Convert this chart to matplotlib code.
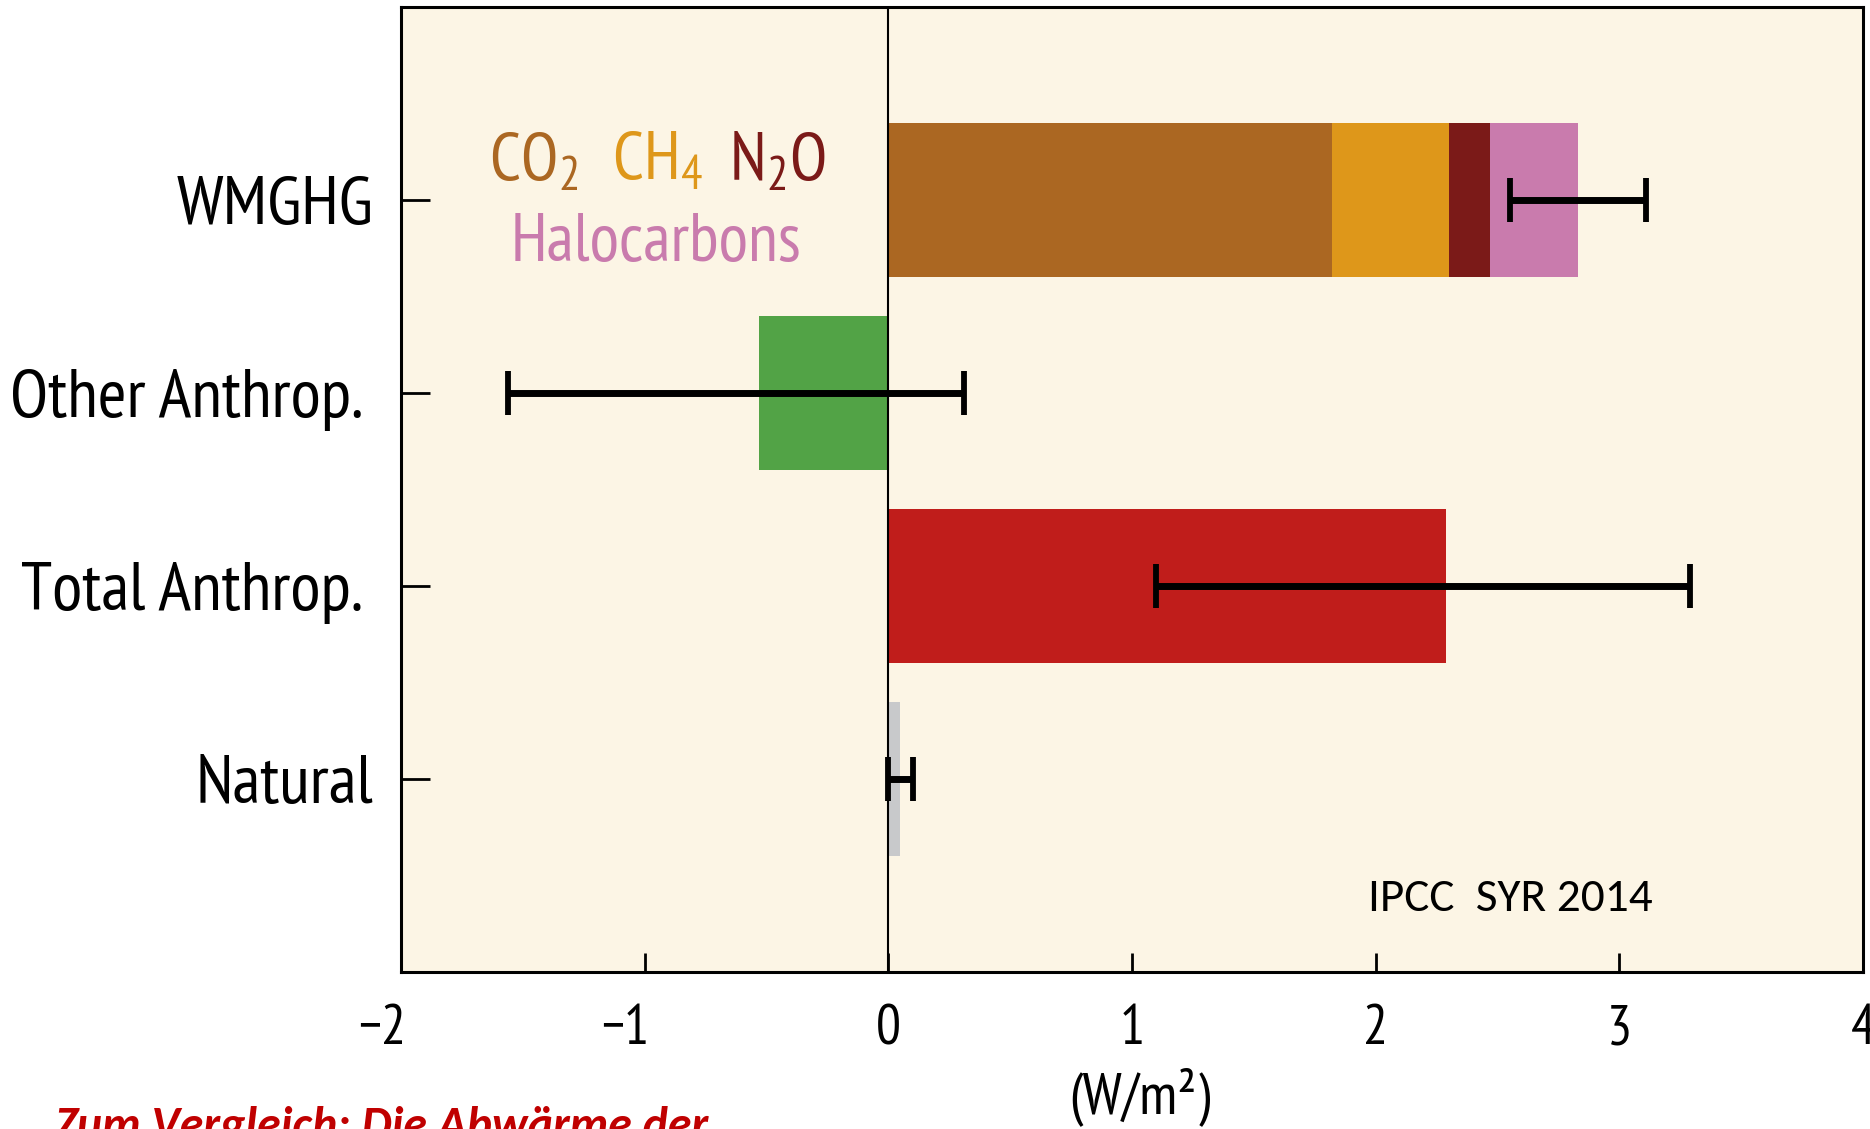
#!/usr/bin/env python3

"""
Radiative forcing bars (IPCC SYR 2014), redrawn with matplotlib.
"""

import matplotlib
matplotlib.use("Agg")
import matplotlib.pyplot as plt
import matplotlib.transforms as mtransforms

# categories from top to bottom
categories = ["WMGHG", "Other Anthrop. ", "Total Anthrop. ", "Natural"]
positions = [3, 2, 1, 0]

# WMGHG stacked components (W/m2)
ghg_names = ["CO$_2$", "CH$_4$", "N$_2$O", "Halocarbons"]
ghg_values = [1.82, 0.48, 0.17, 0.36]

# single bars for the other rows
single_values = [-0.53, 2.29, 0.05]

# uncertainty ranges per row (low, high)
err_low = [2.55, -1.56, 1.10, 0.00]
err_high = [3.11, 0.31, 3.29, 0.10]

xticks = [-2, -1, 0, 1, 2, 3, 4]

BG = "#fcf5e5"
GHG_COLORS = ["#ab6722", "#de971a", "#7b1a18", "#c97bad"]
SINGLE_COLORS = ["#52a346", "#c01d1b", "#c8c9cb"]

NARROW = ["PT Sans Narrow", "Roboto Condensed", "DejaVu Sans"]
CALIBRI = ["Carlito", "Open Sans", "DejaVu Sans"]

plt.rcParams["mathtext.fontset"] = "custom"
plt.rcParams["mathtext.rm"] = "PT Sans Narrow"
plt.rcParams["mathtext.it"] = "PT Sans Narrow"
plt.rcParams["mathtext.bf"] = "PT Sans Narrow"

fig = plt.figure(figsize=(18.7, 11.29), dpi=100)
ax = fig.add_axes([0.2144, 0.139, 0.7819, 0.8548])
ax.set_facecolor(BG)

# stacked WMGHG bar
left = 0
for val, col in zip(ghg_values, GHG_COLORS):
    ax.barh(positions[0], val, left=left, height=0.8, color=col, zorder=2)
    left += val

# other rows
for pos, val, col in zip(positions[1:], single_values, SINGLE_COLORS):
    ax.barh(pos, val, height=0.8, color=col, zorder=2)

# uncertainty bars
totals = [sum(ghg_values)] + single_values
for pos, tot, lo, hi in zip(positions, totals, err_low, err_high):
    ax.errorbar(tot, pos, xerr=[[tot - lo], [hi - tot]], fmt="none",
                ecolor="black", elinewidth=5, capsize=16, capthick=4.2, zorder=4)

ax.axvline(0, color="black", lw=1.5, zorder=3)

ax.set_xlim(-2, 4)
ax.set_ylim(-1, 4)
ax.set_xticks(xticks)
ax.set_xticklabels([("\u2212%d" % -t) if t < 0 else str(t) for t in xticks],
                   family=NARROW, fontsize=40)
ax.set_yticks(positions)
ax.set_yticklabels(categories, family=NARROW, fontsize=50)
ax.tick_params(axis="x", direction="in", length=14, width=2, pad=23)
ax.tick_params(axis="y", direction="in", length=21, width=2, pad=20)
for sp in ax.spines.values():
    sp.set_linewidth(2.2)
    sp.set_color("black")

# the minus sign hangs to the left of the tick, digit sits on it
# (done after tick_params, which resets the label transforms)
shift = mtransforms.ScaledTranslation(-0.19, 0, fig.dpi_scale_trans)
for tick, t in zip(ax.xaxis.get_major_ticks(), xticks):
    if t < 0:
        tick.label1.set_transform(tick.label1.get_transform() + shift)

ax.set_xlabel("(W/m\u00b2)", family=NARROW, fontsize=42)
ax.xaxis.set_label_coords(0.505, -0.098)

# legend text for the greenhouse gases
legend_x = [-1.64, -1.135, -0.655]
for name, x, col in zip(ghg_names[:3], legend_x, GHG_COLORS[:3]):
    ax.text(x, 3.105, name, color=col, family=NARROW, fontsize=49,
            ha="left", va="baseline")
ax.text(-0.955, 2.685, ghg_names[3], color=GHG_COLORS[3], family=NARROW,
        fontsize=49, ha="center", va="baseline")

ax.text(1.968, -0.684, "IPCC  SYR 2014", family=CALIBRI,
        fontsize=34, ha="left", va="baseline")

fig.text(0.029, -0.009, "Zum Vergleich: Die Abwärme der", color="#c00000",
         family=CALIBRI, fontsize=34.5, fontweight="bold",
         fontstyle="italic", ha="left", va="baseline")

fig.savefig("out.png", dpi=100, facecolor="white")
plt.close(fig)
